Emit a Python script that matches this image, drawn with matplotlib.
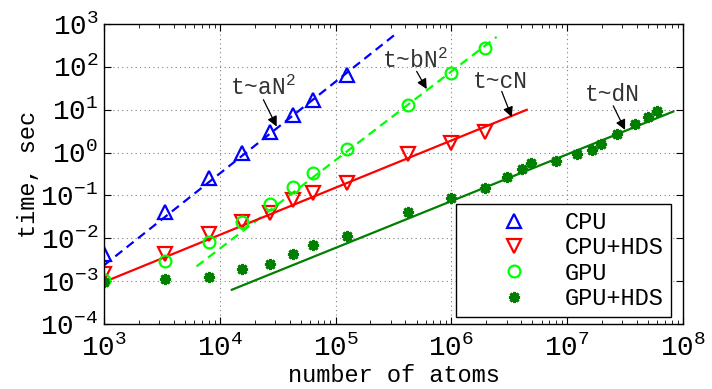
import matplotlib
matplotlib.use("Agg")
import matplotlib.pyplot as plt
import numpy as np

plt.rcParams['font.family'] = ['Liberation Mono', 'DejaVu Sans Mono']
plt.rcParams['mathtext.fontset'] = 'custom'
plt.rcParams['mathtext.rm'] = 'Liberation Mono'
plt.rcParams['mathtext.it'] = 'Liberation Mono'
plt.rcParams['axes.unicode_minus'] = False

# measured points
cpu_n = [1000, 3375, 8000, 15625, 27000, 42875, 64000, 125000]
cpu_t = [4.4e-3, 0.041, 0.25, 1.0, 3.0, 7.6, 17, 66]

cpuhds_n = [1000, 3375, 8000, 15625, 27000, 42875, 64000, 125000, 421875, 1e6, 1953125]
cpuhds_t = [1.49e-3, 4.4e-3, 0.0129, 0.024, 0.038, 0.078, 0.111, 0.19, 0.93, 1.65, 3.1]

gpu_n = [1000, 3375, 8000, 15625, 27000, 42875, 64000, 125000, 421875, 1e6, 1953125]
gpu_t = [1.04e-3, 2.9e-3, 8.2e-3, 0.024, 0.0625, 0.159, 0.34, 1.19, 13, 72, 277]

gpuhds_n = [1000, 3375, 8000, 15625, 27000, 42875, 64000, 125000, 421875, 1e6, 1953125,
            3.0e6, 4.04e6, 4.84e6, 7.96e6, 1.21e7, 1.65e7, 1.95e7, 2.67e7, 3.85e7, 4.95e7, 6.0e7]
gpuhds_t = [9.5e-4, 1.1e-3, 1.24e-3, 1.95e-3, 2.55e-3, 4.2e-3, 7.1e-3, 0.0111, 0.040, 0.085, 0.146,
            0.273, 0.406, 0.561, 0.645, 0.93, 1.15, 1.56, 2.69, 4.68, 6.93, 9.4]

# fit lines (end points)
fit_a_n = [1e3, 3.26e5]
fit_a_t = [10**-2.63, 10**2.754]
fit_b_n = [6.3e3, 2.46e6]
fit_b_t = [10**-2.656, 10**2.70]
fit_c_n = [1e3, 4.47e6]
fit_c_t = [10**-3.02, 10**0.998]
fit_d_n = [1.27e4, 8.24e7]
fit_d_t = [10**-3.201, 10**0.958]

blue = '#0000ff'
red = '#ff0000'
green = '#00ff00'
dgreen = '#007f00'

fig = plt.figure(figsize=(7.12, 3.89), dpi=100)
ax = fig.add_axes([104/712, 1-324/389, (683-104)/712, (324-24)/389])

ax.plot(fit_a_n, fit_a_t, color=blue, lw=1.6, dashes=(4, 2.5))
ax.plot(fit_b_n, fit_b_t, color=green, lw=1.6, dashes=(4, 2.5))
ax.plot(fit_c_n, fit_c_t, color=red, lw=1.6)
ax.plot(fit_d_n, fit_d_t, color=dgreen, lw=1.6)

ax.plot(cpu_n, cpu_t, ls='none', marker='^', ms=9.5, mfc='none', mec=blue, mew=1.6, label='CPU')
ax.plot(cpuhds_n, cpuhds_t, ls='none', marker='v', ms=9.5, mfc='none', mec=red, mew=1.6, label='CPU+HDS')
ax.plot(gpu_n, gpu_t, ls='none', marker='o', ms=8.5, mfc='none', mec=green, mew=1.6, label='GPU')
ax.plot(gpuhds_n, gpuhds_t, ls='none', marker=(8, 2, 0), ms=8, mfc=dgreen, mec=dgreen, mew=2, label='GPU+HDS')

ax.set_xscale('log')
ax.set_yscale('log')
ax.set_xlim(1e3, 1e8)
ax.set_ylim(1e-4, 1e3)
ax.set_xticks([1e3, 1e4, 1e5, 1e6, 1e7, 1e8])
ax.set_yticks([1e-4, 1e-3, 1e-2, 1e-1, 1e0, 1e1, 1e2, 1e3])
ax.tick_params(which='both', direction='in', top=True, right=True)
ax.tick_params(which='major', length=5, labelsize=20)
ax.tick_params(which='minor', length=3)
ax.tick_params(axis='x', pad=8)
ax.tick_params(axis='y', pad=4)
ax.grid(True, which='major', ls=(0, (1, 3)), color='#808080', lw=0.8)
for s in ax.spines.values():
    s.set_linewidth(1.0)

ax.set_xlabel('number of atoms', fontsize=17, labelpad=1)
ax.set_ylabel('time, sec', fontsize=17, labelpad=0)

ann = dict(arrowstyle='-|>', color='black', lw=0.9, mutation_scale=15, shrinkA=0, shrinkB=0)
ax.text(1.22e4, 21.5, 't~aN$^{2}$', fontsize=16.5, color='#333333')
ax.annotate('', xy=(3.1e4, 4.05), xytext=(2.38e4, 17.1), arrowprops=ann)
ax.text(2.5e5, 95.7, 't~bN$^{2}$', fontsize=16.5, color='#333333')
ax.annotate('', xy=(6.12e5, 30.3), xytext=(5.01e5, 78.5), arrowprops=ann)
ax.text(1.545e6, 32.6, 't~cN', fontsize=16.5, color='#333333')
ax.annotate('', xy=(3.32e6, 6.71), xytext=(2.72e6, 26.7), arrowprops=ann)
ax.text(1.43e7, 15.6, 't~dN', fontsize=16.5, color='#333333')
ax.annotate('', xy=(3.16e7, 3.38), xytext=(2.5e7, 12.3), arrowprops=ann)

leg = ax.legend(loc='lower right', bbox_to_anchor=(0.979, 0.023), fontsize=17, frameon=True,
                fancybox=False, edgecolor='black', framealpha=1, handlelength=4.3,
                handletextpad=0.0, borderpad=0.3, labelspacing=0.1, borderaxespad=0)
leg.get_frame().set_linewidth(1.0)

fig.savefig('out.png', dpi=100)
